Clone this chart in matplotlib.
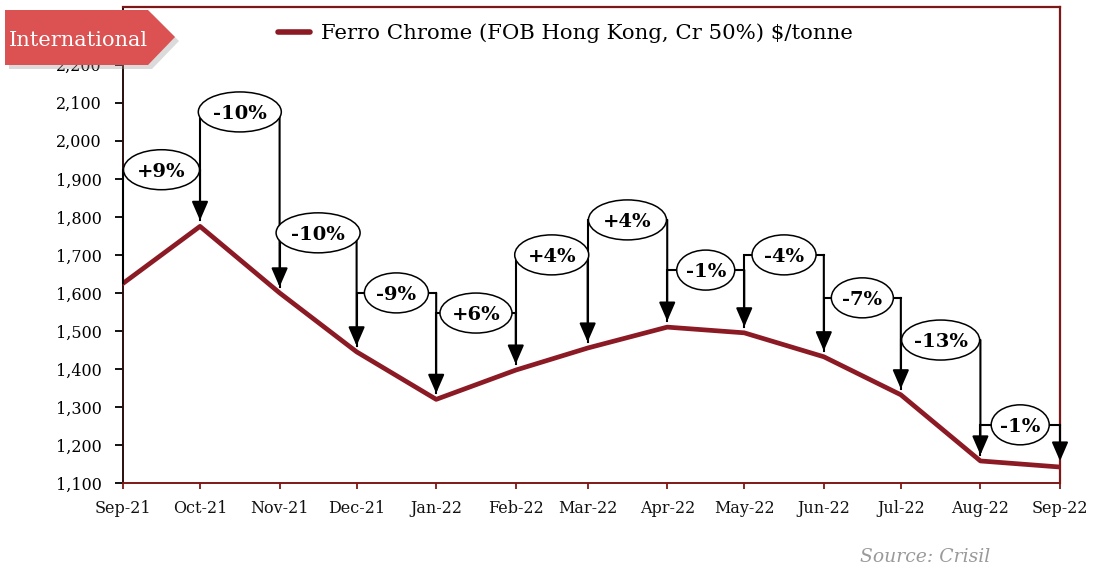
import numpy as np
import pandas as pd
import matplotlib
matplotlib.use("Agg")
import matplotlib.pyplot as plt
import matplotlib.dates as mdates
from matplotlib.patches import Ellipse, Polygon
from matplotlib.ticker import FuncFormatter

# данные с графика
months = ['2021-09-01', '2021-10-01', '2021-11-01', '2021-12-01', '2022-01-01',
          '2022-02-01', '2022-03-01', '2022-04-01', '2022-05-01', '2022-06-01',
          '2022-07-01', '2022-08-01', '2022-09-01']
prices = [1625, 1775, 1600, 1445, 1320, 1397, 1455, 1510, 1495, 1432, 1332, 1158, 1142]
changes = ['+9%', '-10%', '-10%', '-9%', '+6%', '+4%', '+4%', '-1%', '-4%', '-7%', '-13%', '-1%']
bracket_levels = [1924, 2076, 1758, 1600, 1547, 1700, 1792, 1660, 1700, 1587, 1476, 1253]
yticks = list(range(1100, 2201, 100))

# ширина эллипсов в пикселях
ell_w = [76, 83, 84, 64, 72, 74, 78, 58, 64, 62, 78, 58]
ell_h = 40

serif = 'DejaVu Serif'
line_col = '#8B1A24'
frame_col = '#7E1818'

W, H = 1093, 569
fig = plt.figure(figsize=(W / 100, H / 100), dpi=100)
ax = fig.add_axes([123 / W, 1 - 483 / H, (1060 - 123) / W, (483 - 7) / H])

xn = mdates.date2num(pd.to_datetime(months))
ax.plot(xn, prices, color=line_col, lw=3.4, zorder=3,
        label='Ferro Chrome (FOB Hong Kong, Cr 50%) $/tonne')

ax.set_xlim(xn[0], xn[-1])
ax.set_ylim(1100, 2352)
ax.set_yticks(yticks)
ax.yaxis.set_major_formatter(FuncFormatter(lambda v, p: '{:,.0f}'.format(v)))
ax.xaxis_date()
ax.set_xticks(xn)
ax.xaxis.set_major_formatter(mdates.DateFormatter('%b-%y'))

for lab in ax.get_xticklabels() + ax.get_yticklabels():
    lab.set_family(serif)
    lab.set_fontsize(11.5)
    lab.set_color('#111111')

ax.tick_params(axis='y', direction='out', length=5.5, width=1.3, colors='black', pad=10)
ax.tick_params(axis='x', direction='out', length=4, width=1.3, color=frame_col, pad=8)
ax.tick_params(axis='x', labelcolor='#111111')

ax.spines['left'].set_color('#2a0c0c')
ax.spines['left'].set_linewidth(1.4)
ax.spines['bottom'].set_color(frame_col)
ax.spines['bottom'].set_linewidth(1.4)
for s in ['top', 'right']:
    ax.spines[s].set_color(frame_col)
    ax.spines[s].set_linewidth(1.6)

# пересчёт пикселей в единицы осей
px_x = (1060 - 123) / (xn[-1] - xn[0])
px_y = (483 - 7) / (2352 - 1100)
gap = 6 / px_y

for i in range(len(changes)):
    x0, x1 = xn[i], xn[i + 1]
    lev = bracket_levels[i]
    top0 = prices[i] if i == 0 else prices[i] + gap
    tip1 = prices[i + 1] + gap
    ax.plot([x0, x0, x1], [top0, lev, lev], color='black', lw=1.5,
            zorder=4, clip_on=False, solid_joinstyle='miter')
    ax.annotate('', xy=(x1, tip1), xytext=(x1, lev),
                arrowprops=dict(arrowstyle='-|>,head_length=1.15,head_width=0.5',
                                mutation_scale=10, color='black', lw=1.5,
                                shrinkA=0, shrinkB=0),
                zorder=4, annotation_clip=False)
    xc = (x0 + x1) / 2
    ax.add_patch(Ellipse((xc, lev), ell_w[i] / px_x, ell_h / px_y,
                         facecolor='white', edgecolor='black', lw=1.1,
                         zorder=5, clip_on=False))
    ax.text(xc, lev, changes[i], ha='center', va='center_baseline',
            fontsize=14, fontweight='bold', family=serif, zorder=6)

leg = ax.legend(loc='center', bbox_to_anchor=(0.472, 0.945), frameon=False,
                handlelength=1.5, handletextpad=0.5,
                prop={'family': serif, 'size': 15.3})
leg.get_lines()[0].set_linewidth(4)
leg.get_lines()[0].set_solid_capstyle('round')

# плашка International
def fpt(px, py):
    return (px / W, 1 - py / H)

shadow = Polygon([fpt(9, 14), fpt(152, 14), fpt(179, 41), fpt(152, 69), fpt(9, 69)],
                 closed=True, transform=fig.transFigure, facecolor='#999999',
                 alpha=0.35, edgecolor='none', zorder=9)
banner = Polygon([fpt(5, 10), fpt(148, 10), fpt(175, 37), fpt(148, 65), fpt(5, 65)],
                 closed=True, transform=fig.transFigure, facecolor='#DC5151',
                 edgecolor='none', zorder=10)
fig.add_artist(shadow)
fig.add_artist(banner)
fig.text(9 / W, 1 - 40 / H, 'International', color='white', family=serif,
         fontsize=15, ha='left', va='center', zorder=11)

fig.text(860 / W, 1 - 557 / H, 'Source: Crisil', color='#9a9a9a', family=serif,
         style='italic', fontsize=13.5, ha='left', va='center')

plt.savefig('out.png', dpi=100)
